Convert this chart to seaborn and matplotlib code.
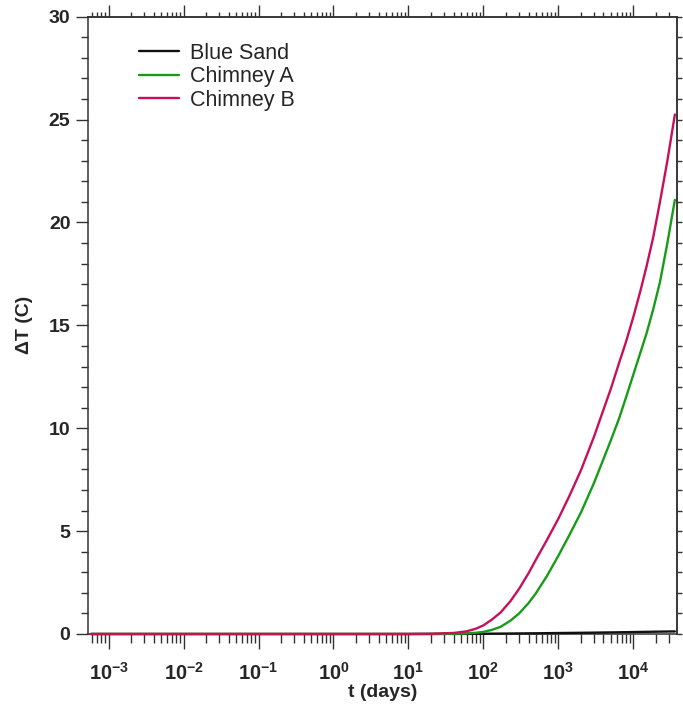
import numpy as np
import pandas as pd
import matplotlib
matplotlib.use("Agg")
import matplotlib.pyplot as plt
import seaborn as sns
from matplotlib.ticker import (FixedLocator, LogLocator, NullFormatter,
                               FuncFormatter, MultipleLocator)

# Temperature rise versus time for three sites
t_days = [5.8e-4, 1e-2, 1e-1, 1, 10, 20, 40, 60, 80, 100, 130, 170, 230, 300, 400,
          500, 700, 1000, 1400, 2000, 3000, 4000, 5000, 6500, 8000, 10000, 12500,
          15000, 18500, 22700, 28500, 35900]
blue_sand = [0, 0, 0, 0, 0, 0.003, 0.006, 0.009, 0.011, 0.013, 0.016, 0.019, 0.023,
             0.027, 0.031, 0.034, 0.040, 0.046, 0.052, 0.058, 0.066, 0.072, 0.077,
             0.083, 0.088, 0.094, 0.100, 0.105, 0.110, 0.115, 0.120, 0.125]
chimney_a = [0, 0, 0, 0, 0, 0, 0.01, 0.03, 0.06, 0.10, 0.20, 0.35, 0.65, 1.0, 1.5,
             1.97, 2.8, 3.8, 4.8, 5.9, 7.35, 8.5, 9.4, 10.5, 11.5, 12.6, 13.7, 14.6,
             15.8, 17.1, 19.0, 21.1]
chimney_b = [0, 0, 0, 0, 0, 0.01, 0.05, 0.13, 0.26, 0.42, 0.70, 1.05, 1.6, 2.2, 2.95,
             3.6, 4.55, 5.6, 6.7, 7.95, 9.6, 10.9, 11.9, 13.2, 14.2, 15.4, 16.7, 17.85,
             19.3, 21.0, 23.0, 25.25]

series_names = ["Blue Sand", "Chimney A", "Chimney B"]
series_colors = ["#111111", "#179c17", "#c8105a"]
decade_ticks = [1e-3, 1e-2, 1e-1, 1e0, 1e1, 1e2, 1e3, 1e4]

df = pd.DataFrame({
    "t": t_days * 3,
    "dT": blue_sand + chimney_a + chimney_b,
    "site": [n for n in series_names for _ in t_days],
})

sns.set_style("ticks")
plt.rcParams["font.family"] = ["Liberation Sans", "DejaVu Sans"]
plt.rcParams["mathtext.fontset"] = "custom"
plt.rcParams["mathtext.default"] = "bf"
plt.rcParams["mathtext.bf"] = "Liberation Sans:bold"
plt.rcParams["mathtext.rm"] = "Liberation Sans:bold"

axis_col = "#333333"

fig = plt.figure(figsize=(6.83, 7.09), dpi=100)
ax = fig.add_axes([0.1288, 0.1058, 0.8624, 0.8706])

sns.lineplot(data=df, x="t", y="dT", hue="site", hue_order=series_names,
             palette=series_colors, estimator=None, linewidth=1.7, ax=ax)
for ln in ax.lines:
    ln.set_clip_on(False)
    ln.set_zorder(3)

ax.set_xscale("log")
ax.set_xlim(5.3e-4, 3.83e4)
ax.set_ylim(0, 30)

for s in ax.spines.values():
    s.set_visible(True)
    s.set_linewidth(1.1)
    s.set_color(axis_col)

minor_loc = LogLocator(base=10, subs=np.arange(2, 10), numticks=20)

# bottom / left ticks
ax.xaxis.set_major_locator(FixedLocator(decade_ticks))
ax.xaxis.set_minor_locator(minor_loc)
ax.xaxis.set_minor_formatter(NullFormatter())
ax.xaxis.set_major_formatter(FuncFormatter(lambda v, p: r"$10^{%d}$" % round(np.log10(v))))
ax.yaxis.set_major_locator(MultipleLocator(5))
ax.yaxis.set_minor_locator(MultipleLocator(1))
ax.tick_params(axis="x", which="major", direction="out", length=10.8, width=1.0,
               color=axis_col, labelsize=14.5, pad=9)
ax.tick_params(axis="x", which="minor", direction="out", length=6.5, width=1.0, color=axis_col)
ax.tick_params(axis="y", which="major", direction="out", length=8.6, width=1.0,
               color=axis_col, labelsize=14, pad=4)
ax.tick_params(axis="y", which="minor", direction="out", length=5, width=1.0, color=axis_col)
for lab in ax.get_yticklabels():
    lab.set_fontweight("bold")

# top and right tick rows without labels
top = ax.secondary_xaxis("top")
top.xaxis.set_major_locator(FixedLocator(decade_ticks))
top.xaxis.set_minor_locator(LogLocator(base=10, subs=np.arange(2, 10), numticks=20))
top.xaxis.set_minor_formatter(NullFormatter())
top.tick_params(axis="x", which="major", direction="out", length=8.6, width=1.0,
                color=axis_col, labeltop=False)
top.tick_params(axis="x", which="minor", direction="out", length=3.6, width=1.0, color=axis_col)
top.spines["top"].set_linewidth(1.1)
top.spines["top"].set_color(axis_col)

right = ax.secondary_yaxis("right")
right.set_yticks(np.arange(0, 31, 1))
right.tick_params(axis="y", which="major", direction="out", length=3.6, width=1.0,
                  color=axis_col, labelright=False)
right.spines["right"].set_linewidth(1.1)
right.spines["right"].set_color(axis_col)

ax.set_xlabel("t (days)", fontsize=14, fontweight="bold")
ax.set_ylabel("\u0394T (C)", fontsize=14, fontweight="bold")
ax.xaxis.set_label_coords(0.5, -0.081)
ax.yaxis.set_label_coords(-0.093, 0.5)

handles, labels = ax.get_legend_handles_labels()
ax.legend(handles, labels, loc="upper left", bbox_to_anchor=(0.0866, 0.958),
          frameon=False, borderpad=0, borderaxespad=0, handlelength=1.85,
          handletextpad=0.5, labelspacing=0.12, prop={"size": 15.5})

fig.savefig("out.png", dpi=100)
